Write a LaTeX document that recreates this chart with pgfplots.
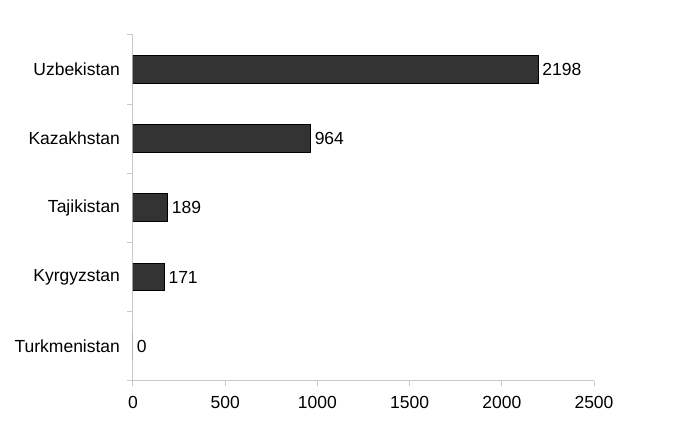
\documentclass[border=0pt]{standalone}
\usepackage{fontspec}
\setmainfont{Liberation Sans}
\usepackage{pgfplots}
\pgfplotsset{compat=1.18}
\definecolor{barfill}{HTML}{333333}
\definecolor{axisgray}{HTML}{C8C8C8}
\begin{document}
\begin{tikzpicture}
\useasboundingbox (-133pt,-59.2pt) rectangle (552pt,380.8pt);
\begin{axis}[
    at={(0,0)}, anchor=south west,
    scale only axis,
    width=461pt, height=346pt,
    xbar,
    bar width=0.4,
    xmin=0, xmax=2500,
    ymin=-0.5, ymax=4.5,
    xtick={0,500,1000,1500,2000,2500},
    ytick={-0.5,0.5,1.5,2.5,3.5,4.5},
    y tick label as interval,
    yticklabels={Turkmenistan,Kyrgyzstan,Tajikistan,Kazakhstan,Uzbekistan},
    axis x line*=bottom,
    axis y line*=left,
    axis line style={draw=axisgray, line width=1pt, -},
    tick style={draw=axisgray, line width=1pt},
    major tick length=5.5pt,
    tick align=outside,
    xticklabel style={yshift=-6pt},
    yticklabel style={xshift=-4pt},
    font=\fontsize{17.5}{21}\selectfont,
    ticklabel style={font=\fontsize{17.5}{21}\selectfont},
    /pgf/number format/assume math mode=true,
    /pgf/number format/1000 sep={},
    scaled x ticks=false,
    nodes near coords,
    nodes near coords style={font=\fontsize{17.5}{21}\selectfont, black, inner sep=3.5pt},
]
\addplot[fill=barfill, draw=black, line width=1pt] coordinates {
(0,0)
(171,1)
(189,2)
(964,3)
(2198,4)
};
\end{axis}
\end{tikzpicture}
\end{document}
